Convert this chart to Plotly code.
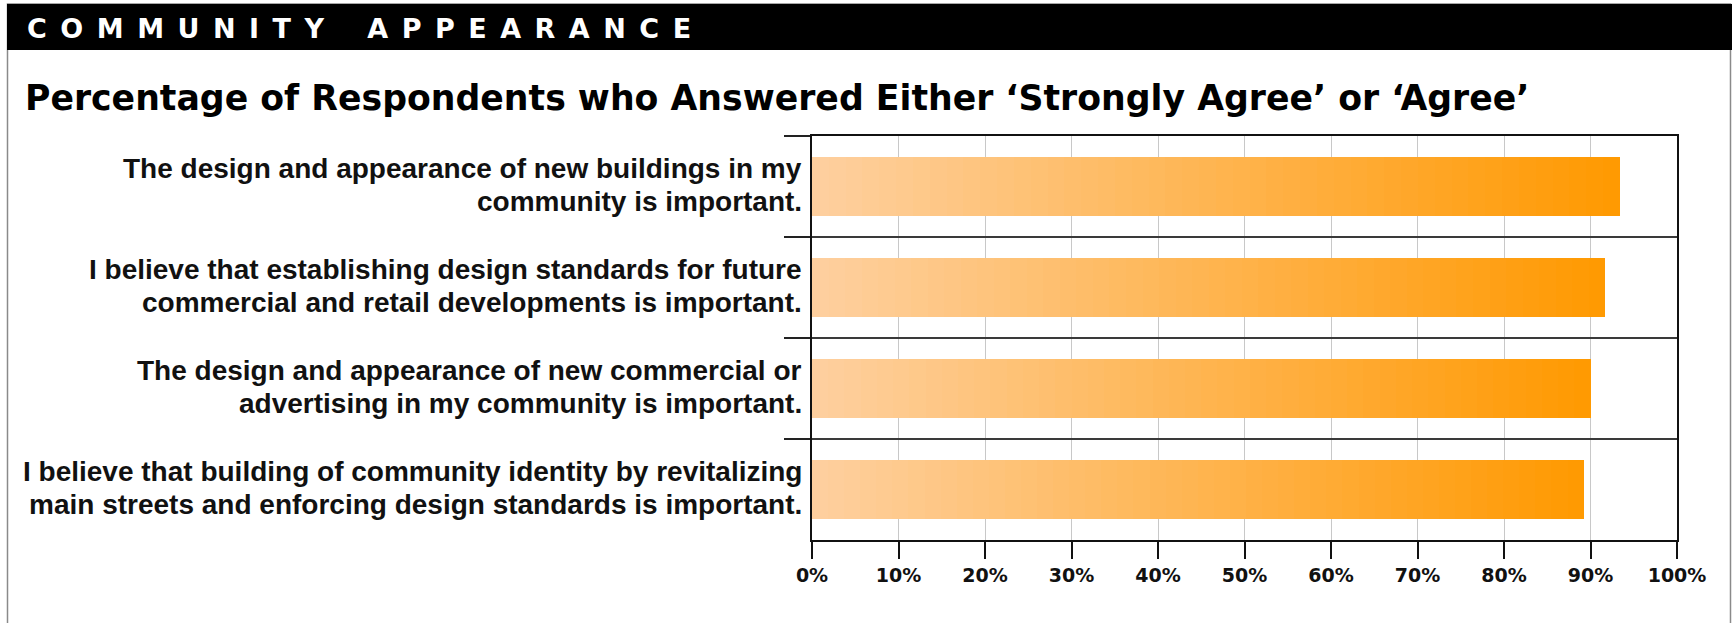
import plotly.graph_objects as go

# ---- data ----
label_lines = [
    ["The design and appearance of new buildings in my", "community is important."],
    ["I believe that establishing design standards for future", "commercial and retail developments is important."],
    ["The design and appearance of new commercial or", "advertising in my community is important."],
    ["I believe that building of community identity by revitalizing", "main streets and enforcing design standards is important."],
]
cat_keys = ["Q1", "Q2", "Q3", "Q4"]
values = [93.4, 91.7, 90.0, 89.2]
x_tick_vals = [0, 10, 20, 30, 40, 50, 60, 70, 80, 90, 100]
x_tick_text = ["0%", "10%", "20%", "30%", "40%", "50%", "60%", "70%", "80%", "90%", "100%"]
header_text = "COMMUNITY APPEARANCE"
title_text = "Percentage of Respondents who Answered Either \u2018Strongly Agree\u2019 or \u2018Agree\u2019"

# ---- layout geometry (pixels) ----
W, H = 1732, 623
L, R, T, B = 812, 1677, 136, 540


def px_x(px):
    return (px - L) / (R - L)


def px_y(py):
    return (B - py) / (B - T)


c0 = (254, 208, 160)
c1 = (255, 153, 0)
N = 48

fig = go.Figure()
for k in range(N):
    f = (k + 0.5) / N
    col = "rgb(%d,%d,%d)" % tuple(round(a + (b - a) * f) for a, b in zip(c0, c1))
    fig.add_trace(go.Bar(
        y=cat_keys,
        x=[v / N for v in values],
        orientation="h",
        marker=dict(color=col, line=dict(width=0)),
        width=0.58,
        showlegend=False,
        hoverinfo="skip",
    ))

label_font = dict(family="Liberation Sans, Arial, sans-serif", size=28, color="#111", weight="bold")
annotations = []
for key, lines in zip(cat_keys, label_lines):
    for line, shift in zip(lines, [18, -15]):
        annotations.append(dict(
            xref="paper", yref="y", x=0, y=key, xanchor="right", yanchor="middle",
            xshift=-8, yshift=shift, align="right", showarrow=False, text=line,
            font=label_font,
        ))

gap = "\u2002"
word_gap = "\u2003\u2002\u200a"
spaced = word_gap.join(gap.join(list(w)) for w in header_text.split(" "))
annotations.append(dict(
    xref="paper", yref="paper", x=px_x(25), y=px_y(28), xanchor="left", yanchor="middle",
    showarrow=False, text=spaced,
    font=dict(family="DejaVu Sans", size=27, color="white", weight="bold"),
))
annotations.append(dict(
    xref="paper", yref="paper", x=px_x(23), y=px_y(97.5), xanchor="left", yanchor="middle",
    showarrow=False, text=title_text,
    font=dict(family="DejaVu Sans", size=34.7, color="black", weight="bold"),
))

shapes = [
    dict(type="rect", xref="paper", yref="paper", layer="below",
         x0=px_x(7.5), x1=px_x(1730.5), y0=px_y(660), y1=px_y(4),
         line=dict(color="#8a8a8a", width=1.5), fillcolor="rgba(0,0,0,0)"),
    dict(type="rect", xref="paper", yref="paper",
         x0=px_x(7), x1=px_x(1740), y0=px_y(50), y1=px_y(4),
         line=dict(width=0), fillcolor="black"),
]

fig.update_layout(
    width=W, height=H,
    margin=dict(l=L, r=W - R, t=T, b=H - B, pad=0),
    paper_bgcolor="white", plot_bgcolor="white",
    barmode="stack", bargap=0.42,
    annotations=annotations, shapes=shapes,
    xaxis=dict(
        range=[0, 100], tickvals=x_tick_vals, ticktext=x_tick_text,
        showgrid=True, gridcolor="#c8c8c8", gridwidth=1,
        showline=True, linecolor="#111", linewidth=2, mirror=True,
        ticks="outside", ticklen=17, tickwidth=2, tickcolor="#111",
        tickfont=dict(family="DejaVu Sans", size=19, color="#111", weight="bold"),
        zeroline=False, fixedrange=True,
    ),
    yaxis=dict(
        type="category", categoryorder="array", categoryarray=cat_keys,
        autorange="reversed", tickson="boundaries",
        showgrid=True, gridcolor="#3a3a3a", gridwidth=2,
        showline=True, linecolor="#111", linewidth=2, mirror=True,
        ticks="outside", ticklen=26, tickwidth=2, tickcolor="#222",
        showticklabels=False, zeroline=False, fixedrange=True,
    ),
)

fig.write_html("out.html", config={"displayModeBar": False},
               post_script="document.body.style.margin='0px';")
